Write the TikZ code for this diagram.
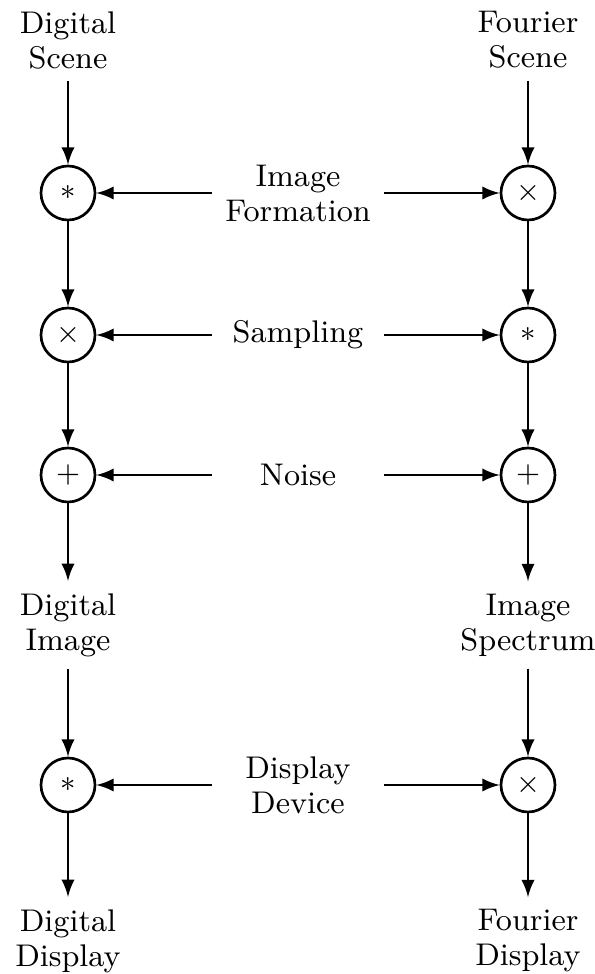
\documentclass[tikz,border=0pt]{standalone}
\usepackage{amsmath}
\usetikzlibrary{matrix, arrows}

\begin{document}
\begin{tikzpicture}[x=0.3pt, y=-0.3pt, >=latex, thick,
  font=\fontsize{9.4}{10.5}\selectfont,
  op/.style={circle, draw, minimum size=16.2pt, inner sep=0pt},
  mid/.style={minimum width=51pt}]
\begin{pgfinterruptboundingbox}
\matrix [nodes={align=center, anchor=center}, column sep={69pt,between origins}, row sep={0pt,between origins}]{
\node (dscene) {Digital\\Scene}; & & \node (fscene) {Fourier\\Scene}; \\[45.9pt]
\node[op] (dform) {$*$}; & \node[mid] (form) {Image\\Formation}; & \node[op] (fform) {$\times$}; \\[42.6pt]
\node[op] (dsamp) {$\times$}; & \node[mid] (samp) {Sampling}; & \node[op] (fsamp) {$*$}; \\[42pt]
\node[op] (dnoise) {$+$}; & \node[mid] (noise) {Noise}; & \node[op] (fnoise) {$+$}; \\[45pt]
\node (dimage) {Digital\\Image}; & & \node (fimage) {Image\\Spectrum}; \\[48pt]
\node[op] (ddev) {$*$}; & \node[mid] (dev) {Display\\Device}; & \node[op] (fdev) {$\times$}; \\[46.8pt]
\node (ddisp) {Digital\\Display}; & & \node (fdisp) {Fourier\\Display}; \\
};
\end{pgfinterruptboundingbox}
\useasboundingbox ([shift={(-68,-40)}]dscene.center) rectangle ++(595,974);
\foreach \a/\b in {scene/form,form/samp,samp/noise,noise/image,image/dev,dev/disp}{
  \draw [->] (d\a) -- (d\b);
  \draw [->] (f\a) -- (f\b);
}
\foreach \r in {form,samp,noise,dev}{
  \draw [->] (\r) -- (d\r);
  \draw [->] (\r) -- (f\r);
}
\end{tikzpicture}
\end{document}
